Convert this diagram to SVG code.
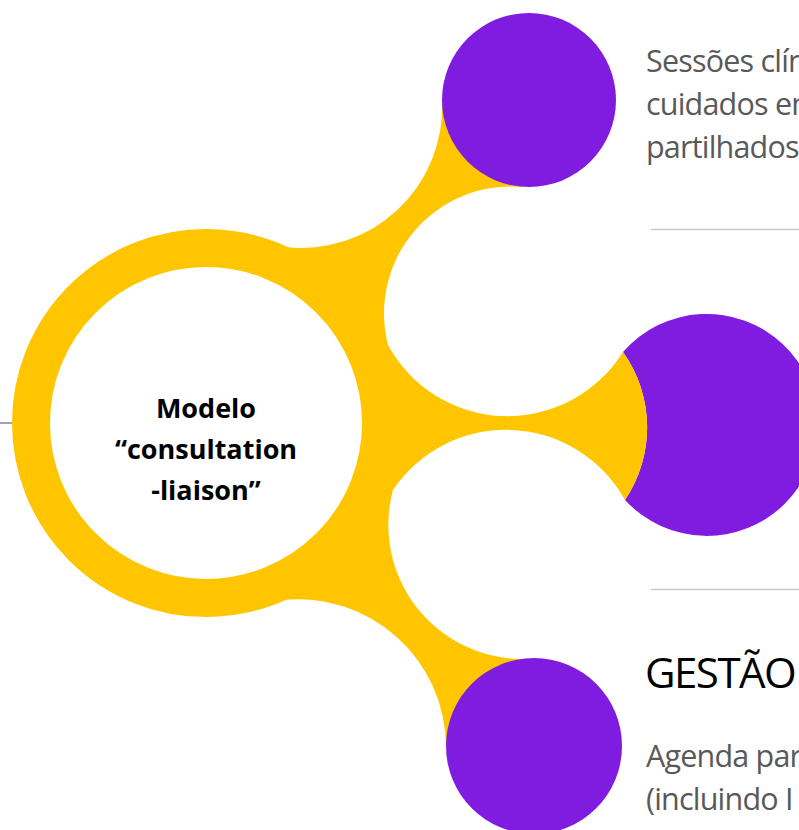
<svg xmlns="http://www.w3.org/2000/svg" width="799" height="830" viewBox="0 0 799 830">
  <style>
    .yellow { fill: #FFC600; }
    .purple { fill: #801BE0; }
    .body { font-family: "Open Sans", "Noto Sans", sans-serif; font-size: 30.5px; fill: #595959; letter-spacing: -0.8px; }
    .head { font-family: "Open Sans", "Noto Sans", sans-serif; font-size: 42px; fill: #000000; letter-spacing: -1.5px; }
    .hub { font-family: "Open Sans", "Noto Sans", sans-serif; font-size: 27px; font-weight: bold; fill: #000000; text-anchor: middle; }
    .rule { stroke: #C8C8C8; stroke-width: 1.3; }
  </style>
  <rect width="799" height="830" fill="#ffffff"/>

  <g id="node-mid">
    <path class="purple" d="M 623,352 A 111 111 0 1 1 625,500 A 130 130 0 0 0 623,352 Z"/>
  </g>

  <g id="connectors">
    <line x1="0" y1="423" x2="30" y2="423" stroke="#8C78AA" stroke-width="1.5"/>
    <path class="yellow" d="M 285,247 A 141 141 0 0 0 442,100 L 529,100 L 523,187 A 127 127 0 0 0 388,345 A 136 136 0 0 0 623,352 A 130 130 0 0 1 625,500 A 136 136 0 0 0 393,490 A 134 134 0 0 0 523,659 L 533,746 L 446,746 A 148 148 0 0 0 283,600 L 206,423 Z"/>
  </g>

  <g id="center">
    <circle cx="206" cy="423" r="175" fill="#ffffff" stroke="#FFC600" stroke-width="38"/>
    <text class="hub" x="206" y="418">Modelo</text>
    <text class="hub" x="206" y="459">“consultation</text>
    <text class="hub" x="206" y="500">-liaison”</text>
  </g>

  <g id="node-top">
    <circle class="purple" cx="529" cy="100" r="87"/>
  </g>

  <g id="node-bottom">
    <circle class="purple" cx="534" cy="746" r="88"/>
  </g>

  <g id="text-top">
    <text class="body" x="646" y="72">Sessões clín</text>
    <text class="body" x="646" y="115">cuidados em</text>
    <text class="body" x="646" y="158">partilhados</text>
    <line class="rule" x1="651" y1="229.5" x2="799" y2="229.5"/>
  </g>

  <g id="text-bottom">
    <line class="rule" x1="651" y1="589.5" x2="799" y2="589.5"/>
    <text class="head" x="645" y="688">GESTÃO</text>
    <text class="body" x="646" y="767">Agenda par</text>
    <text class="body" x="646" y="810">(incluindo I</text>
  </g>
</svg>
